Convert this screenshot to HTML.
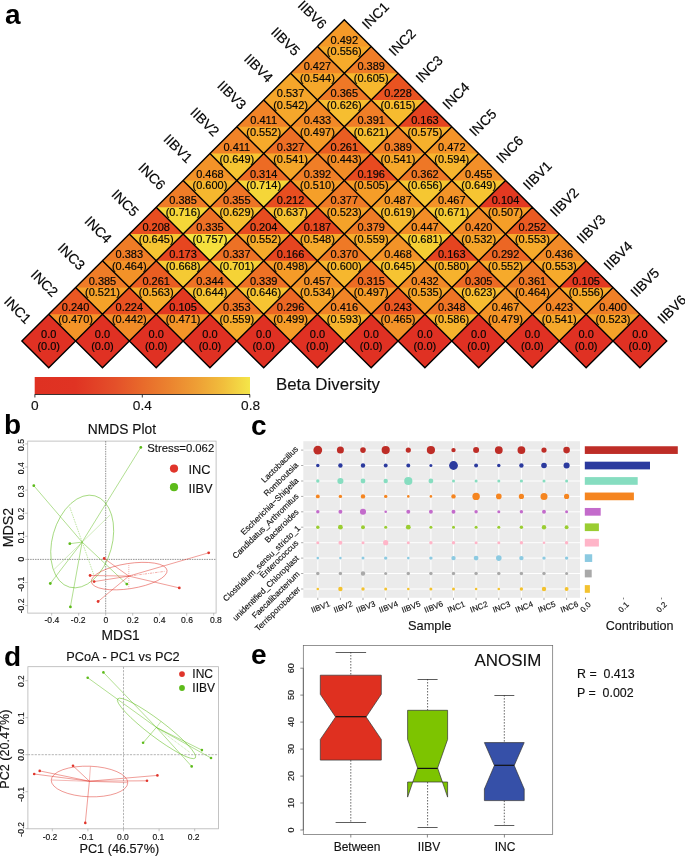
<!DOCTYPE html>
<html lang="en"><head><meta charset="utf-8"><title>Figure</title>
<style>
html,body{margin:0;padding:0;background:#fff;}
body{width:685px;height:856px;overflow:hidden;}
svg{display:block;font-family:"Liberation Sans",Arial,sans-serif;}
text{stroke:#111;stroke-width:.14px;}
.h text{stroke-width:.2px;}
.b text{stroke:none;}
</style></head><body>
<svg width="685" height="856" viewBox="0 0 685 856">
<rect width="685" height="856" fill="#fff"/>
<g id="heat">
<g shape-rendering="geometricPrecision"><path d="M317.43 46.48L344.30 19.70L371.17 46.48L344.30 73.26Z" fill="#F6AB2B"/><path d="M317.43 46.48L344.30 19.70L371.17 46.48Z" fill="#F59A28"/><path d="M290.56 73.26L317.43 46.48L344.30 73.26L317.43 100.04Z" fill="#F5A82B"/><path d="M290.56 73.26L317.43 46.48L344.30 73.26Z" fill="#F18827"/><path d="M344.30 73.26L371.17 46.48L398.04 73.26L371.17 100.04Z" fill="#F6B82E"/><path d="M344.30 73.26L371.17 46.48L398.04 73.26Z" fill="#F07D27"/><path d="M263.69 100.04L290.56 73.26L317.43 100.04L290.56 126.82Z" fill="#F5A72B"/><path d="M263.69 100.04L290.56 73.26L317.43 100.04Z" fill="#F5A62A"/><path d="M317.43 100.04L344.30 73.26L371.17 100.04L344.30 126.82Z" fill="#F6BE30"/><path d="M317.43 100.04L344.30 73.26L371.17 100.04Z" fill="#EF7826"/><path d="M371.17 100.04L398.04 73.26L424.91 100.04L398.04 126.82Z" fill="#F6BB2F"/><path d="M371.17 100.04L398.04 73.26L424.91 100.04Z" fill="#E95321"/><path d="M236.82 126.82L263.69 100.04L290.56 126.82L263.69 153.60Z" fill="#F6AA2B"/><path d="M236.82 126.82L263.69 100.04L290.56 126.82Z" fill="#F18327"/><path d="M290.56 126.82L317.43 100.04L344.30 126.82L317.43 153.60Z" fill="#F59B28"/><path d="M290.56 126.82L317.43 100.04L344.30 126.82Z" fill="#F28927"/><path d="M344.30 126.82L371.17 100.04L398.04 126.82L371.17 153.60Z" fill="#F6BD30"/><path d="M344.30 126.82L371.17 100.04L398.04 126.82Z" fill="#F07E27"/><path d="M398.04 126.82L424.91 100.04L451.78 126.82L424.91 153.60Z" fill="#F6B02C"/><path d="M398.04 126.82L424.91 100.04L451.78 126.82Z" fill="#E64420"/><path d="M209.95 153.60L236.82 126.82L263.69 153.60L236.82 180.38Z" fill="#F6C532"/><path d="M209.95 153.60L236.82 126.82L263.69 153.60Z" fill="#F18327"/><path d="M263.69 153.60L290.56 126.82L317.43 153.60L290.56 180.38Z" fill="#F5A72A"/><path d="M263.69 153.60L290.56 126.82L317.43 153.60Z" fill="#ED6E25"/><path d="M317.43 153.60L344.30 126.82L371.17 153.60L344.30 180.38Z" fill="#F28C27"/><path d="M317.43 153.60L344.30 126.82L371.17 153.60Z" fill="#EA5D22"/><path d="M371.17 153.60L398.04 126.82L424.91 153.60L398.04 180.38Z" fill="#F5A72A"/><path d="M371.17 153.60L398.04 126.82L424.91 153.60Z" fill="#F07D27"/><path d="M424.91 153.60L451.78 126.82L478.65 153.60L451.78 180.38Z" fill="#F6B52E"/><path d="M424.91 153.60L451.78 126.82L478.65 153.60Z" fill="#F49428"/><path d="M183.08 180.38L209.95 153.60L236.82 180.38L209.95 207.16Z" fill="#F6B72E"/><path d="M183.08 180.38L209.95 153.60L236.82 180.38Z" fill="#F39328"/><path d="M236.82 180.38L263.69 153.60L290.56 180.38L263.69 207.16Z" fill="#F5D638"/><path d="M236.82 180.38L263.69 153.60L290.56 180.38Z" fill="#ED6B24"/><path d="M290.56 180.38L317.43 153.60L344.30 180.38L317.43 207.16Z" fill="#F59F29"/><path d="M290.56 180.38L317.43 153.60L344.30 180.38Z" fill="#F07E27"/><path d="M344.30 180.38L371.17 153.60L398.04 180.38L371.17 207.16Z" fill="#F59D28"/><path d="M344.30 180.38L371.17 153.60L398.04 180.38Z" fill="#E84A20"/><path d="M398.04 180.38L424.91 153.60L451.78 180.38L424.91 207.16Z" fill="#F5C732"/><path d="M398.04 180.38L424.91 153.60L451.78 180.38Z" fill="#EE7726"/><path d="M451.78 180.38L478.65 153.60L505.52 180.38L478.65 207.16Z" fill="#F6C532"/><path d="M451.78 180.38L478.65 153.60L505.52 180.38Z" fill="#F38F28"/><path d="M156.21 207.16L183.08 180.38L209.95 207.16L183.08 233.94Z" fill="#F5D738"/><path d="M156.21 207.16L183.08 180.38L209.95 207.16Z" fill="#EF7C27"/><path d="M209.95 207.16L236.82 180.38L263.69 207.16L236.82 233.94Z" fill="#F6BF30"/><path d="M209.95 207.16L236.82 180.38L263.69 207.16Z" fill="#EE7526"/><path d="M263.69 207.16L290.56 180.38L317.43 207.16L290.56 233.94Z" fill="#F6C131"/><path d="M263.69 207.16L290.56 180.38L317.43 207.16Z" fill="#E84E20"/><path d="M317.43 207.16L344.30 180.38L371.17 207.16L344.30 233.94Z" fill="#F5A229"/><path d="M317.43 207.16L344.30 180.38L371.17 207.16Z" fill="#EF7A26"/><path d="M371.17 207.16L398.04 180.38L424.91 207.16L398.04 233.94Z" fill="#F6BC30"/><path d="M371.17 207.16L398.04 180.38L424.91 207.16Z" fill="#F49828"/><path d="M424.91 207.16L451.78 180.38L478.65 207.16L451.78 233.94Z" fill="#F5CB34"/><path d="M424.91 207.16L451.78 180.38L478.65 207.16Z" fill="#F39328"/><path d="M478.65 207.16L505.52 180.38L532.39 207.16L505.52 233.94Z" fill="#F59E28"/><path d="M478.65 207.16L505.52 180.38L532.39 207.16Z" fill="#E33921"/><path d="M129.34 233.94L156.21 207.16L183.08 233.94L156.21 260.72Z" fill="#F6C432"/><path d="M129.34 233.94L156.21 207.16L183.08 233.94Z" fill="#E84D20"/><path d="M183.08 233.94L209.95 207.16L236.82 233.94L209.95 260.72Z" fill="#F5E03D"/><path d="M183.08 233.94L209.95 207.16L236.82 233.94Z" fill="#ED7025"/><path d="M236.82 233.94L263.69 207.16L290.56 233.94L263.69 260.72Z" fill="#F6AA2B"/><path d="M236.82 233.94L263.69 207.16L290.56 233.94Z" fill="#E84C20"/><path d="M290.56 233.94L317.43 207.16L344.30 233.94L317.43 260.72Z" fill="#F5A92B"/><path d="M290.56 233.94L317.43 207.16L344.30 233.94Z" fill="#E74920"/><path d="M344.30 233.94L371.17 207.16L398.04 233.94L371.17 260.72Z" fill="#F6AC2C"/><path d="M344.30 233.94L371.17 207.16L398.04 233.94Z" fill="#EF7B26"/><path d="M398.04 233.94L424.91 207.16L451.78 233.94L424.91 260.72Z" fill="#F5CE34"/><path d="M398.04 233.94L424.91 207.16L451.78 233.94Z" fill="#F28D27"/><path d="M451.78 233.94L478.65 207.16L505.52 233.94L478.65 260.72Z" fill="#F5A52A"/><path d="M451.78 233.94L478.65 207.16L505.52 233.94Z" fill="#F18627"/><path d="M505.52 233.94L532.39 207.16L559.26 233.94L532.39 260.72Z" fill="#F6AA2B"/><path d="M505.52 233.94L532.39 207.16L559.26 233.94Z" fill="#EA5A22"/><path d="M102.47 260.72L129.34 233.94L156.21 260.72L129.34 287.50Z" fill="#F39228"/><path d="M102.47 260.72L129.34 233.94L156.21 260.72Z" fill="#EF7C26"/><path d="M156.21 260.72L183.08 233.94L209.95 260.72L183.08 287.50Z" fill="#F5CA33"/><path d="M156.21 260.72L183.08 233.94L209.95 260.72Z" fill="#E74620"/><path d="M209.95 260.72L236.82 233.94L263.69 260.72L236.82 287.50Z" fill="#F5D336"/><path d="M209.95 260.72L236.82 233.94L263.69 260.72Z" fill="#ED7125"/><path d="M263.69 260.72L290.56 233.94L317.43 260.72L290.56 287.50Z" fill="#F59B28"/><path d="M263.69 260.72L290.56 233.94L317.43 260.72Z" fill="#E64520"/><path d="M317.43 260.72L344.30 233.94L371.17 260.72L344.30 287.50Z" fill="#F6B72E"/><path d="M317.43 260.72L344.30 233.94L371.17 260.72Z" fill="#EF7926"/><path d="M371.17 260.72L398.04 233.94L424.91 260.72L398.04 287.50Z" fill="#F6C432"/><path d="M371.17 260.72L398.04 233.94L424.91 260.72Z" fill="#F39328"/><path d="M424.91 260.72L451.78 233.94L478.65 260.72L451.78 287.50Z" fill="#F6B22D"/><path d="M424.91 260.72L451.78 233.94L478.65 260.72Z" fill="#E64420"/><path d="M478.65 260.72L505.52 233.94L532.39 260.72L505.52 287.50Z" fill="#F6AA2B"/><path d="M478.65 260.72L505.52 233.94L532.39 260.72Z" fill="#EC6624"/><path d="M532.39 260.72L559.26 233.94L586.13 260.72L559.26 287.50Z" fill="#F6AA2B"/><path d="M532.39 260.72L559.26 233.94L586.13 260.72Z" fill="#F28A27"/><path d="M75.60 287.50L102.47 260.72L129.34 287.50L102.47 314.28Z" fill="#F5A229"/><path d="M75.60 287.50L102.47 260.72L129.34 287.50Z" fill="#EF7C27"/><path d="M129.34 287.50L156.21 260.72L183.08 287.50L156.21 314.28Z" fill="#F6AD2C"/><path d="M129.34 287.50L156.21 260.72L183.08 287.50Z" fill="#EA5D22"/><path d="M183.08 287.50L209.95 260.72L236.82 287.50L209.95 314.28Z" fill="#F6C332"/><path d="M183.08 287.50L209.95 260.72L236.82 287.50Z" fill="#EE7325"/><path d="M236.82 287.50L263.69 260.72L290.56 287.50L263.69 314.28Z" fill="#F6C432"/><path d="M236.82 287.50L263.69 260.72L290.56 287.50Z" fill="#EE7125"/><path d="M290.56 287.50L317.43 260.72L344.30 287.50L317.43 314.28Z" fill="#F5A52A"/><path d="M290.56 287.50L317.43 260.72L344.30 287.50Z" fill="#F39028"/><path d="M344.30 287.50L371.17 260.72L398.04 287.50L371.17 314.28Z" fill="#F59B28"/><path d="M344.30 287.50L371.17 260.72L398.04 287.50Z" fill="#ED6C24"/><path d="M398.04 287.50L424.91 260.72L451.78 287.50L424.91 314.28Z" fill="#F5A52A"/><path d="M398.04 287.50L424.91 260.72L451.78 287.50Z" fill="#F28927"/><path d="M451.78 287.50L478.65 260.72L505.52 287.50L478.65 314.28Z" fill="#F6BD30"/><path d="M451.78 287.50L478.65 260.72L505.52 287.50Z" fill="#EC6924"/><path d="M505.52 287.50L532.39 260.72L559.26 287.50L532.39 314.28Z" fill="#F39228"/><path d="M505.52 287.50L532.39 260.72L559.26 287.50Z" fill="#EE7726"/><path d="M559.26 287.50L586.13 260.72L613.00 287.50L586.13 314.28Z" fill="#F6AB2B"/><path d="M559.26 287.50L586.13 260.72L613.00 287.50Z" fill="#E33921"/><path d="M48.73 314.28L75.60 287.50L102.47 314.28L75.60 341.06Z" fill="#F49428"/><path d="M48.73 314.28L75.60 287.50L102.47 314.28Z" fill="#EA5722"/><path d="M102.47 314.28L129.34 287.50L156.21 314.28L129.34 341.06Z" fill="#F28C27"/><path d="M102.47 314.28L129.34 287.50L156.21 314.28Z" fill="#E95221"/><path d="M156.21 314.28L183.08 287.50L209.95 314.28L183.08 341.06Z" fill="#F49428"/><path d="M156.21 314.28L183.08 287.50L209.95 314.28Z" fill="#E33921"/><path d="M209.95 314.28L236.82 287.50L263.69 314.28L236.82 341.06Z" fill="#F6AC2C"/><path d="M209.95 314.28L236.82 287.50L263.69 314.28Z" fill="#EE7526"/><path d="M263.69 314.28L290.56 287.50L317.43 314.28L290.56 341.06Z" fill="#F59C28"/><path d="M263.69 314.28L290.56 287.50L317.43 314.28Z" fill="#EC6724"/><path d="M317.43 314.28L344.30 287.50L371.17 314.28L344.30 341.06Z" fill="#F6B52E"/><path d="M317.43 314.28L344.30 287.50L371.17 314.28Z" fill="#F18427"/><path d="M371.17 314.28L398.04 287.50L424.91 314.28L398.04 341.06Z" fill="#F39228"/><path d="M371.17 314.28L398.04 287.50L424.91 314.28Z" fill="#EA5722"/><path d="M424.91 314.28L451.78 287.50L478.65 314.28L451.78 341.06Z" fill="#F6B32D"/><path d="M424.91 314.28L451.78 287.50L478.65 314.28Z" fill="#EE7425"/><path d="M478.65 314.28L505.52 287.50L532.39 314.28L505.52 341.06Z" fill="#F49628"/><path d="M478.65 314.28L505.52 287.50L532.39 314.28Z" fill="#F39328"/><path d="M532.39 314.28L559.26 287.50L586.13 314.28L559.26 341.06Z" fill="#F5A72A"/><path d="M532.39 314.28L559.26 287.50L586.13 314.28Z" fill="#F18627"/><path d="M586.13 314.28L613.00 287.50L639.87 314.28L613.00 341.06Z" fill="#F5A229"/><path d="M586.13 314.28L613.00 287.50L639.87 314.28Z" fill="#F08027"/><path d="M21.86 341.06L48.73 314.28L75.60 341.06L48.73 367.84Z" fill="#E03123"/><path d="M75.60 341.06L102.47 314.28L129.34 341.06L102.47 367.84Z" fill="#E03123"/><path d="M129.34 341.06L156.21 314.28L183.08 341.06L156.21 367.84Z" fill="#E03123"/><path d="M183.08 341.06L209.95 314.28L236.82 341.06L209.95 367.84Z" fill="#E03123"/><path d="M236.82 341.06L263.69 314.28L290.56 341.06L263.69 367.84Z" fill="#E03123"/><path d="M290.56 341.06L317.43 314.28L344.30 341.06L317.43 367.84Z" fill="#E03123"/><path d="M344.30 341.06L371.17 314.28L398.04 341.06L371.17 367.84Z" fill="#E03123"/><path d="M398.04 341.06L424.91 314.28L451.78 341.06L424.91 367.84Z" fill="#E03123"/><path d="M451.78 341.06L478.65 314.28L505.52 341.06L478.65 367.84Z" fill="#E03123"/><path d="M505.52 341.06L532.39 314.28L559.26 341.06L532.39 367.84Z" fill="#E03123"/><path d="M559.26 341.06L586.13 314.28L613.00 341.06L586.13 367.84Z" fill="#E03123"/><path d="M613.00 341.06L639.87 314.28L666.74 341.06L639.87 367.84Z" fill="#E03123"/></g>
<path d="M317.43 46.48L344.30 19.70L371.17 46.48L344.30 73.26ZM290.56 73.26L317.43 46.48L344.30 73.26L317.43 100.04ZM344.30 73.26L371.17 46.48L398.04 73.26L371.17 100.04ZM263.69 100.04L290.56 73.26L317.43 100.04L290.56 126.82ZM317.43 100.04L344.30 73.26L371.17 100.04L344.30 126.82ZM371.17 100.04L398.04 73.26L424.91 100.04L398.04 126.82ZM236.82 126.82L263.69 100.04L290.56 126.82L263.69 153.60ZM290.56 126.82L317.43 100.04L344.30 126.82L317.43 153.60ZM344.30 126.82L371.17 100.04L398.04 126.82L371.17 153.60ZM398.04 126.82L424.91 100.04L451.78 126.82L424.91 153.60ZM209.95 153.60L236.82 126.82L263.69 153.60L236.82 180.38ZM263.69 153.60L290.56 126.82L317.43 153.60L290.56 180.38ZM317.43 153.60L344.30 126.82L371.17 153.60L344.30 180.38ZM371.17 153.60L398.04 126.82L424.91 153.60L398.04 180.38ZM424.91 153.60L451.78 126.82L478.65 153.60L451.78 180.38ZM183.08 180.38L209.95 153.60L236.82 180.38L209.95 207.16ZM236.82 180.38L263.69 153.60L290.56 180.38L263.69 207.16ZM290.56 180.38L317.43 153.60L344.30 180.38L317.43 207.16ZM344.30 180.38L371.17 153.60L398.04 180.38L371.17 207.16ZM398.04 180.38L424.91 153.60L451.78 180.38L424.91 207.16ZM451.78 180.38L478.65 153.60L505.52 180.38L478.65 207.16ZM156.21 207.16L183.08 180.38L209.95 207.16L183.08 233.94ZM209.95 207.16L236.82 180.38L263.69 207.16L236.82 233.94ZM263.69 207.16L290.56 180.38L317.43 207.16L290.56 233.94ZM317.43 207.16L344.30 180.38L371.17 207.16L344.30 233.94ZM371.17 207.16L398.04 180.38L424.91 207.16L398.04 233.94ZM424.91 207.16L451.78 180.38L478.65 207.16L451.78 233.94ZM478.65 207.16L505.52 180.38L532.39 207.16L505.52 233.94ZM129.34 233.94L156.21 207.16L183.08 233.94L156.21 260.72ZM183.08 233.94L209.95 207.16L236.82 233.94L209.95 260.72ZM236.82 233.94L263.69 207.16L290.56 233.94L263.69 260.72ZM290.56 233.94L317.43 207.16L344.30 233.94L317.43 260.72ZM344.30 233.94L371.17 207.16L398.04 233.94L371.17 260.72ZM398.04 233.94L424.91 207.16L451.78 233.94L424.91 260.72ZM451.78 233.94L478.65 207.16L505.52 233.94L478.65 260.72ZM505.52 233.94L532.39 207.16L559.26 233.94L532.39 260.72ZM102.47 260.72L129.34 233.94L156.21 260.72L129.34 287.50ZM156.21 260.72L183.08 233.94L209.95 260.72L183.08 287.50ZM209.95 260.72L236.82 233.94L263.69 260.72L236.82 287.50ZM263.69 260.72L290.56 233.94L317.43 260.72L290.56 287.50ZM317.43 260.72L344.30 233.94L371.17 260.72L344.30 287.50ZM371.17 260.72L398.04 233.94L424.91 260.72L398.04 287.50ZM424.91 260.72L451.78 233.94L478.65 260.72L451.78 287.50ZM478.65 260.72L505.52 233.94L532.39 260.72L505.52 287.50ZM532.39 260.72L559.26 233.94L586.13 260.72L559.26 287.50ZM75.60 287.50L102.47 260.72L129.34 287.50L102.47 314.28ZM129.34 287.50L156.21 260.72L183.08 287.50L156.21 314.28ZM183.08 287.50L209.95 260.72L236.82 287.50L209.95 314.28ZM236.82 287.50L263.69 260.72L290.56 287.50L263.69 314.28ZM290.56 287.50L317.43 260.72L344.30 287.50L317.43 314.28ZM344.30 287.50L371.17 260.72L398.04 287.50L371.17 314.28ZM398.04 287.50L424.91 260.72L451.78 287.50L424.91 314.28ZM451.78 287.50L478.65 260.72L505.52 287.50L478.65 314.28ZM505.52 287.50L532.39 260.72L559.26 287.50L532.39 314.28ZM559.26 287.50L586.13 260.72L613.00 287.50L586.13 314.28ZM48.73 314.28L75.60 287.50L102.47 314.28L75.60 341.06ZM102.47 314.28L129.34 287.50L156.21 314.28L129.34 341.06ZM156.21 314.28L183.08 287.50L209.95 314.28L183.08 341.06ZM209.95 314.28L236.82 287.50L263.69 314.28L236.82 341.06ZM263.69 314.28L290.56 287.50L317.43 314.28L290.56 341.06ZM317.43 314.28L344.30 287.50L371.17 314.28L344.30 341.06ZM371.17 314.28L398.04 287.50L424.91 314.28L398.04 341.06ZM424.91 314.28L451.78 287.50L478.65 314.28L451.78 341.06ZM478.65 314.28L505.52 287.50L532.39 314.28L505.52 341.06ZM532.39 314.28L559.26 287.50L586.13 314.28L559.26 341.06ZM586.13 314.28L613.00 287.50L639.87 314.28L613.00 341.06ZM21.86 341.06L48.73 314.28L75.60 341.06L48.73 367.84ZM75.60 341.06L102.47 314.28L129.34 341.06L102.47 367.84ZM129.34 341.06L156.21 314.28L183.08 341.06L156.21 367.84ZM183.08 341.06L209.95 314.28L236.82 341.06L209.95 367.84ZM236.82 341.06L263.69 314.28L290.56 341.06L263.69 367.84ZM290.56 341.06L317.43 314.28L344.30 341.06L317.43 367.84ZM344.30 341.06L371.17 314.28L398.04 341.06L371.17 367.84ZM398.04 341.06L424.91 314.28L451.78 341.06L424.91 367.84ZM451.78 341.06L478.65 314.28L505.52 341.06L478.65 367.84ZM505.52 341.06L532.39 314.28L559.26 341.06L532.39 367.84ZM559.26 341.06L586.13 314.28L613.00 341.06L586.13 367.84ZM613.00 341.06L639.87 314.28L666.74 341.06L639.87 367.84Z" fill="none" stroke="#000" stroke-width="1.4" stroke-linejoin="miter"/>
<g class="h" font-size="11" text-anchor="middle" fill="#000"><text x="344.30" y="43.68">0.492</text><text x="344.30" y="55.38">(0.556)</text><text x="317.43" y="70.46">0.427</text><text x="317.43" y="82.16">(0.544)</text><text x="371.17" y="70.46">0.389</text><text x="371.17" y="82.16">(0.605)</text><text x="290.56" y="97.24">0.537</text><text x="290.56" y="108.94">(0.542)</text><text x="344.30" y="97.24">0.365</text><text x="344.30" y="108.94">(0.626)</text><text x="398.04" y="97.24">0.228</text><text x="398.04" y="108.94">(0.615)</text><text x="263.69" y="124.02">0.411</text><text x="263.69" y="135.72">(0.552)</text><text x="317.43" y="124.02">0.433</text><text x="317.43" y="135.72">(0.497)</text><text x="371.17" y="124.02">0.391</text><text x="371.17" y="135.72">(0.621)</text><text x="424.91" y="124.02">0.163</text><text x="424.91" y="135.72">(0.575)</text><text x="236.82" y="150.80">0.411</text><text x="236.82" y="162.50">(0.649)</text><text x="290.56" y="150.80">0.327</text><text x="290.56" y="162.50">(0.541)</text><text x="344.30" y="150.80">0.261</text><text x="344.30" y="162.50">(0.443)</text><text x="398.04" y="150.80">0.389</text><text x="398.04" y="162.50">(0.541)</text><text x="451.78" y="150.80">0.472</text><text x="451.78" y="162.50">(0.594)</text><text x="209.95" y="177.58">0.468</text><text x="209.95" y="189.28">(0.600)</text><text x="263.69" y="177.58">0.314</text><text x="263.69" y="189.28">(0.714)</text><text x="317.43" y="177.58">0.392</text><text x="317.43" y="189.28">(0.510)</text><text x="371.17" y="177.58">0.196</text><text x="371.17" y="189.28">(0.505)</text><text x="424.91" y="177.58">0.362</text><text x="424.91" y="189.28">(0.656)</text><text x="478.65" y="177.58">0.455</text><text x="478.65" y="189.28">(0.649)</text><text x="183.08" y="204.36">0.385</text><text x="183.08" y="216.06">(0.716)</text><text x="236.82" y="204.36">0.355</text><text x="236.82" y="216.06">(0.629)</text><text x="290.56" y="204.36">0.212</text><text x="290.56" y="216.06">(0.637)</text><text x="344.30" y="204.36">0.377</text><text x="344.30" y="216.06">(0.523)</text><text x="398.04" y="204.36">0.487</text><text x="398.04" y="216.06">(0.619)</text><text x="451.78" y="204.36">0.467</text><text x="451.78" y="216.06">(0.671)</text><text x="505.52" y="204.36">0.104</text><text x="505.52" y="216.06">(0.507)</text><text x="156.21" y="231.14">0.208</text><text x="156.21" y="242.84">(0.645)</text><text x="209.95" y="231.14">0.335</text><text x="209.95" y="242.84">(0.757)</text><text x="263.69" y="231.14">0.204</text><text x="263.69" y="242.84">(0.552)</text><text x="317.43" y="231.14">0.187</text><text x="317.43" y="242.84">(0.548)</text><text x="371.17" y="231.14">0.379</text><text x="371.17" y="242.84">(0.559)</text><text x="424.91" y="231.14">0.447</text><text x="424.91" y="242.84">(0.681)</text><text x="478.65" y="231.14">0.420</text><text x="478.65" y="242.84">(0.532)</text><text x="532.39" y="231.14">0.252</text><text x="532.39" y="242.84">(0.553)</text><text x="129.34" y="257.92">0.383</text><text x="129.34" y="269.62">(0.464)</text><text x="183.08" y="257.92">0.173</text><text x="183.08" y="269.62">(0.668)</text><text x="236.82" y="257.92">0.337</text><text x="236.82" y="269.62">(0.701)</text><text x="290.56" y="257.92">0.166</text><text x="290.56" y="269.62">(0.498)</text><text x="344.30" y="257.92">0.370</text><text x="344.30" y="269.62">(0.600)</text><text x="398.04" y="257.92">0.468</text><text x="398.04" y="269.62">(0.645)</text><text x="451.78" y="257.92">0.163</text><text x="451.78" y="269.62">(0.580)</text><text x="505.52" y="257.92">0.292</text><text x="505.52" y="269.62">(0.552)</text><text x="559.26" y="257.92">0.436</text><text x="559.26" y="269.62">(0.553)</text><text x="102.47" y="284.70">0.385</text><text x="102.47" y="296.40">(0.521)</text><text x="156.21" y="284.70">0.261</text><text x="156.21" y="296.40">(0.563)</text><text x="209.95" y="284.70">0.344</text><text x="209.95" y="296.40">(0.644)</text><text x="263.69" y="284.70">0.339</text><text x="263.69" y="296.40">(0.646)</text><text x="317.43" y="284.70">0.457</text><text x="317.43" y="296.40">(0.534)</text><text x="371.17" y="284.70">0.315</text><text x="371.17" y="296.40">(0.497)</text><text x="424.91" y="284.70">0.432</text><text x="424.91" y="296.40">(0.535)</text><text x="478.65" y="284.70">0.305</text><text x="478.65" y="296.40">(0.623)</text><text x="532.39" y="284.70">0.361</text><text x="532.39" y="296.40">(0.464)</text><text x="586.13" y="284.70">0.105</text><text x="586.13" y="296.40">(0.556)</text><text x="75.60" y="311.48">0.240</text><text x="75.60" y="323.18">(0.470)</text><text x="129.34" y="311.48">0.224</text><text x="129.34" y="323.18">(0.442)</text><text x="183.08" y="311.48">0.105</text><text x="183.08" y="323.18">(0.471)</text><text x="236.82" y="311.48">0.353</text><text x="236.82" y="323.18">(0.559)</text><text x="290.56" y="311.48">0.296</text><text x="290.56" y="323.18">(0.499)</text><text x="344.30" y="311.48">0.416</text><text x="344.30" y="323.18">(0.593)</text><text x="398.04" y="311.48">0.243</text><text x="398.04" y="323.18">(0.465)</text><text x="451.78" y="311.48">0.348</text><text x="451.78" y="323.18">(0.586)</text><text x="505.52" y="311.48">0.467</text><text x="505.52" y="323.18">(0.479)</text><text x="559.26" y="311.48">0.423</text><text x="559.26" y="323.18">(0.541)</text><text x="613.00" y="311.48">0.400</text><text x="613.00" y="323.18">(0.523)</text><text x="48.73" y="338.26">0.0</text><text x="48.73" y="349.96">(0.0)</text><text x="102.47" y="338.26">0.0</text><text x="102.47" y="349.96">(0.0)</text><text x="156.21" y="338.26">0.0</text><text x="156.21" y="349.96">(0.0)</text><text x="209.95" y="338.26">0.0</text><text x="209.95" y="349.96">(0.0)</text><text x="263.69" y="338.26">0.0</text><text x="263.69" y="349.96">(0.0)</text><text x="317.43" y="338.26">0.0</text><text x="317.43" y="349.96">(0.0)</text><text x="371.17" y="338.26">0.0</text><text x="371.17" y="349.96">(0.0)</text><text x="424.91" y="338.26">0.0</text><text x="424.91" y="349.96">(0.0)</text><text x="478.65" y="338.26">0.0</text><text x="478.65" y="349.96">(0.0)</text><text x="532.39" y="338.26">0.0</text><text x="532.39" y="349.96">(0.0)</text><text x="586.13" y="338.26">0.0</text><text x="586.13" y="349.96">(0.0)</text><text x="639.87" y="338.26">0.0</text><text x="639.87" y="349.96">(0.0)</text></g>
<g class="h" font-size="13.8" fill="#000"><text transform="translate(28.80 321.17) rotate(45)" text-anchor="end" x="0" y="4.8">INC1</text><text transform="translate(364.24 26.59) rotate(-45)" text-anchor="start" x="0" y="4.8">INC1</text><text transform="translate(55.67 294.39) rotate(45)" text-anchor="end" x="0" y="4.8">INC2</text><text transform="translate(391.11 53.37) rotate(-45)" text-anchor="start" x="0" y="4.8">INC2</text><text transform="translate(82.53 267.61) rotate(45)" text-anchor="end" x="0" y="4.8">INC3</text><text transform="translate(417.98 80.15) rotate(-45)" text-anchor="start" x="0" y="4.8">INC3</text><text transform="translate(109.41 240.83) rotate(45)" text-anchor="end" x="0" y="4.8">INC4</text><text transform="translate(444.85 106.93) rotate(-45)" text-anchor="start" x="0" y="4.8">INC4</text><text transform="translate(136.28 214.05) rotate(45)" text-anchor="end" x="0" y="4.8">INC5</text><text transform="translate(471.72 133.71) rotate(-45)" text-anchor="start" x="0" y="4.8">INC5</text><text transform="translate(163.15 187.27) rotate(45)" text-anchor="end" x="0" y="4.8">INC6</text><text transform="translate(498.58 160.49) rotate(-45)" text-anchor="start" x="0" y="4.8">INC6</text><text transform="translate(190.02 160.49) rotate(45)" text-anchor="end" x="0" y="4.8">IIBV1</text><text transform="translate(525.45 187.27) rotate(-45)" text-anchor="start" x="0" y="4.8">IIBV1</text><text transform="translate(216.88 133.71) rotate(45)" text-anchor="end" x="0" y="4.8">IIBV2</text><text transform="translate(552.32 214.05) rotate(-45)" text-anchor="start" x="0" y="4.8">IIBV2</text><text transform="translate(243.75 106.93) rotate(45)" text-anchor="end" x="0" y="4.8">IIBV3</text><text transform="translate(579.19 240.83) rotate(-45)" text-anchor="start" x="0" y="4.8">IIBV3</text><text transform="translate(270.62 80.15) rotate(45)" text-anchor="end" x="0" y="4.8">IIBV4</text><text transform="translate(606.06 267.61) rotate(-45)" text-anchor="start" x="0" y="4.8">IIBV4</text><text transform="translate(297.50 53.37) rotate(45)" text-anchor="end" x="0" y="4.8">IIBV5</text><text transform="translate(632.93 294.39) rotate(-45)" text-anchor="start" x="0" y="4.8">IIBV5</text><text transform="translate(324.37 26.59) rotate(45)" text-anchor="end" x="0" y="4.8">IIBV6</text><text transform="translate(659.80 321.17) rotate(-45)" text-anchor="start" x="0" y="4.8">IIBV6</text></g>
</g>
<defs><linearGradient id="cb" x1="0" x2="1" y1="0" y2="0"><stop offset="0.000" stop-color="#DF3122"/><stop offset="0.187" stop-color="#E03323"/><stop offset="0.375" stop-color="#E4502A"/><stop offset="0.500" stop-color="#E86A2B"/><stop offset="0.625" stop-color="#EB832F"/><stop offset="0.750" stop-color="#EE9E35"/><stop offset="0.875" stop-color="#F1BE3C"/><stop offset="1.000" stop-color="#F4E649"/></linearGradient></defs>
<rect x="34.7" y="377" width="215.3" height="17.3" fill="url(#cb)"/>
<path d="M34.7 394.5H250M34.9 394.5v3M142.3 394.5v3M249.8 394.5v3" stroke="#222" stroke-width="0.9" fill="none"/>
<g font-size="13.7" text-anchor="middle" fill="#111"><text x="34.7" y="409.6">0</text><text x="142.3" y="409.6">0.4</text><text x="250.6" y="409.6">0.8</text></g>
<text x="276" y="390.3" font-size="16.85" fill="#111">Beta Diversity</text>
<g class="b" font-size="28" font-weight="bold" fill="#000"><text x="5" y="23.5">a</text><text x="4" y="434">b</text><text x="251" y="434.6">c</text><text x="4" y="666">d</text><text x="251" y="664">e</text></g>
<g id="nmds">
<rect x="27.7" y="441.1" width="188.4" height="172.0" fill="none" stroke="#b5b5b5" stroke-width="0.8"/>
<path d="M105.7 441.1V613.1M27.7 559.4H216.1" stroke="#4a4a4a" stroke-width="0.6" stroke-dasharray="1.5 0.95" fill="none"/>
<path d="M51.7 613.1v2.5M78.7 613.1v2.5M105.7 613.1v2.5M132.7 613.1v2.5M159.7 613.1v2.5M186.7 613.1v2.5M213.7 613.1v2.5M27.7 605.6h-2.5M27.7 582.5h-2.5M27.7 559.4h-2.5M27.7 536.3h-2.5M27.7 513.2h-2.5M27.7 490.1h-2.5M27.7 467.0h-2.5M27.7 443.9h-2.5" stroke="#999" stroke-width="0.6" fill="none"/>
<g font-size="8.6" text-anchor="middle" fill="#111">
<text x="51.9" y="623.3">-0.4</text>
<text x="78.2" y="623.3">-0.2</text>
<text x="105.8" y="623.3">0</text>
<text x="132.8" y="623.3">0.2</text>
<text x="159.5" y="623.3">0.4</text>
<text x="187.0" y="623.3">0.6</text>
<text x="215.9" y="623.3">0.8</text>
<text transform="translate(23.6 445.0) rotate(-90)">0.5</text>
<text transform="translate(23.6 468.3) rotate(-90)">0.4</text>
<text transform="translate(23.6 491.4) rotate(-90)">0.3</text>
<text transform="translate(23.6 513.8) rotate(-90)">0.2</text>
<text transform="translate(23.6 537.3) rotate(-90)">0.1</text>
<text transform="translate(23.6 559.2) rotate(-90)">0</text>
<text transform="translate(23.6 584.1) rotate(-90)">-0.1</text>
<text transform="translate(23.6 605.9) rotate(-90)">-0.2</text>
</g>
<text x="121.9" y="434" font-size="13.8" text-anchor="middle" fill="#111">NMDS Plot</text>
<text x="120.6" y="639.7" font-size="13.8" text-anchor="middle" fill="#111">MDS1</text>
<text transform="translate(12.5 527.5) rotate(-90)" font-size="14.2" text-anchor="middle" fill="#111">MDS2</text>
<text x="147.3" y="452.3" font-size="11.3" fill="#111">Stress=0.062</text>
<circle cx="174" cy="468.6" r="4.1" fill="#E0352B"/><circle cx="174" cy="487.2" r="4.1" fill="#5DBB1A"/>
<text x="188.4" y="474" font-size="12.8" fill="#111">INC</text><text x="188.4" y="492.7" font-size="12.8" fill="#111">IIBV</text>
<g stroke="#5DBB1A" stroke-width="0.48" fill="none">
<path d="M82.1 542.1L33.8 485.7M82.1 542.1L140.8 447.4M82.1 542.1L69.8 543.7M82.1 542.1L50.3 583.5M82.1 542.1L70.4 606.9M82.1 542.1L126.8 584.1"/>
<ellipse cx="82.2" cy="541.5" rx="29.9" ry="47.4" transform="rotate(15.6 82.2 541.5)" stroke-width="0.5"/>
<path d="M69.8 507.2L93.8 574.8" stroke-dasharray="1.5 1" stroke-width="0.4"/>
<path d="M110.3 514.8L54.1 569.4" stroke-width="0.35" opacity="0.8"/>
</g>
<g fill="#5DBB1A"><circle cx="33.8" cy="485.7" r="1.4"/><circle cx="140.8" cy="447.4" r="1.4"/><circle cx="69.8" cy="543.7" r="1.4"/><circle cx="50.3" cy="583.5" r="1.4"/><circle cx="70.4" cy="606.9" r="1.4"/><circle cx="126.8" cy="584.1" r="1.4"/></g>
<g stroke="#E0352B" stroke-width="0.48" fill="none">
<path d="M128.8 576.1L104.2 558.5M128.8 576.1L90.1 575.5M128.8 576.1L94.1 581.6M128.8 576.1L98.1 601.5M128.8 576.1L179.3 587.9M128.8 576.1L208.7 552.8"/>
<ellipse cx="129.2" cy="576.1" rx="38.3" ry="12.6" transform="rotate(-8.8 129.2 576.1)" stroke-width="0.5"/>
<path d="M128.8 576.1V564M128.8 576.1V588.4" stroke-dasharray="1 1" stroke-width="0.4"/>
<path d="M128.8 576.1L165.2 571.3" stroke-dasharray="2.5 1 0.8 1" stroke-width="0.4"/>
</g>
<g fill="#E0352B"><circle cx="104.2" cy="558.5" r="1.4"/><circle cx="90.1" cy="575.5" r="1.4"/><circle cx="94.1" cy="581.6" r="1.4"/><circle cx="98.1" cy="601.5" r="1.4"/><circle cx="179.3" cy="587.9" r="1.4"/><circle cx="208.7" cy="552.8" r="1.4"/></g>
</g>
<g id="pcoa">
<rect x="27.9" y="666.7" width="190.7" height="162.1" fill="none" stroke="#b5b5b5" stroke-width="0.8"/>
<path d="M123.5 666.7V828.8M27.9 754.7H218.6" stroke="#b4b4b4" stroke-width="1" stroke-dasharray="2.2 1.2" fill="none"/>
<path d="M52.3 828.8v2.5M27.9 828.7h-2.5M87.9 828.8v2.5M27.9 791.7h-2.5M123.5 828.8v2.5M27.9 754.7h-2.5M159.1 828.8v2.5M27.9 717.7h-2.5M194.7 828.8v2.5M27.9 680.7h-2.5" stroke="#999" stroke-width="0.6" fill="none"/>
<g font-size="8.5" text-anchor="middle" fill="#111">
<text x="50.0" y="839.5">-0.2</text>
<text x="86.2" y="839.5">-0.1</text>
<text x="122.9" y="839.5">0.0</text>
<text x="158.4" y="839.5">0.1</text>
<text x="193.6" y="839.5">0.2</text>
<text transform="translate(24 681.1) rotate(-90)">0.2</text>
<text transform="translate(24 718.3) rotate(-90)">0.1</text>
<text transform="translate(24 754.9) rotate(-90)">0.0</text>
<text transform="translate(24 794.3) rotate(-90)">-0.1</text>
<text transform="translate(24 829.3) rotate(-90)">-0.2</text>
</g>
<text x="123" y="660.8" font-size="12.75" text-anchor="middle" fill="#111">PCoA - PC1 vs PC2</text>
<text x="119.3" y="853.3" font-size="12.7" text-anchor="middle" fill="#111">PC1 (46.57%)</text>
<text transform="translate(9.4 749.2) rotate(-90)" font-size="12.6" text-anchor="middle" fill="#111">PC2 (20.47%)</text>
<circle cx="182" cy="674.1" r="2.9" fill="#E0352B"/><circle cx="182" cy="688" r="2.9" fill="#5DBB1A"/>
<text x="192.3" y="678.2" font-size="12" fill="#111">INC</text><text x="192.3" y="691.8" font-size="12" fill="#111">IIBV</text>
<g stroke="#5DBB1A" stroke-width="0.48" fill="none">
<path d="M156.4 727.4L87.7 677.7M156.4 727.4L103.4 672.4M156.4 727.4L143.1 742.8M156.4 727.4L201.9 750.1M156.4 727.4L211 758M156.4 727.4L191.7 766.4"/>
<ellipse cx="156.5" cy="728.4" rx="48.8" ry="8.3" transform="rotate(37.2 156.5 728.4)" stroke-width="0.5"/>
<path d="M156.4 727.4L161.2 721.2" stroke-width="0.35"/>
<path d="M156.4 727.4L190 752.5" stroke-width="0.35" stroke-dasharray="1 0.8"/>
</g>
<g fill="#5DBB1A"><circle cx="87.7" cy="677.7" r="1.3"/><circle cx="103.4" cy="672.4" r="1.3"/><circle cx="143.1" cy="742.8" r="1.3"/><circle cx="201.9" cy="750.1" r="1.3"/><circle cx="211" cy="758" r="1.3"/><circle cx="191.7" cy="766.4" r="1.3"/></g>
<g stroke="#E0352B" stroke-width="0.48" fill="none">
<path d="M89.4 781.2L73.0 765.8M89.4 781.2L39.7 770.9M89.4 781.2L34.2 774M89.4 781.2L85.3 822.9M89.4 781.2L157.4 775.4M89.4 781.2L147 780.8"/>
<ellipse cx="89.5" cy="781.5" rx="38.3" ry="15.3" transform="rotate(2.1 89.5 781.5)" stroke-width="0.5"/>
<path d="M89.4 781.2L90.4 766.6M51.6 780L127.5 782.7" stroke-width="0.35"/>
</g>
<g fill="#E0352B"><circle cx="73.0" cy="765.8" r="1.3"/><circle cx="39.7" cy="770.9" r="1.3"/><circle cx="34.2" cy="774" r="1.3"/><circle cx="85.3" cy="822.9" r="1.3"/><circle cx="157.4" cy="775.4" r="1.3"/><circle cx="147" cy="780.8" r="1.3"/></g>
</g>
<g id="bubble">
<rect x="303.3" y="441.2" width="276.7" height="156.6" fill="#EBEBEB"/>
<path d="M317.8 441.2V597.8M340.4 441.2V597.8M363.0 441.2V597.8M385.7 441.2V597.8M408.3 441.2V597.8M430.9 441.2V597.8M453.5 441.2V597.8M476.1 441.2V597.8M498.8 441.2V597.8M521.4 441.2V597.8M544.0 441.2V597.8M566.6 441.2V597.8M303.3 450.1H580.0M303.3 465.5H580.0M303.3 481.0H580.0M303.3 496.4H580.0M303.3 511.8H580.0M303.3 527.2H580.0M303.3 542.7H580.0M303.3 558.1H580.0M303.3 573.5H580.0M303.3 589.0H580.0" stroke="#fff" stroke-width="1" fill="none"/>
<path d="M317.8 597.8v2.2M340.4 597.8v2.2M363.0 597.8v2.2M385.7 597.8v2.2M408.3 597.8v2.2M430.9 597.8v2.2M453.5 597.8v2.2M476.1 597.8v2.2M498.8 597.8v2.2M521.4 597.8v2.2M544.0 597.8v2.2M566.6 597.8v2.2M303.3 450.1h-2.2M303.3 465.5h-2.2M303.3 481.0h-2.2M303.3 496.4h-2.2M303.3 511.8h-2.2M303.3 527.2h-2.2M303.3 542.7h-2.2M303.3 558.1h-2.2M303.3 573.5h-2.2M303.3 589.0h-2.2" stroke="#555" stroke-width="0.5" fill="none"/>
<g fill="#BE2D27"><circle cx="317.8" cy="450.1" r="4.40"/><circle cx="340.4" cy="450.1" r="3.50"/><circle cx="363.0" cy="450.1" r="2.80"/><circle cx="385.7" cy="450.1" r="4.10"/><circle cx="408.3" cy="450.1" r="2.60"/><circle cx="430.9" cy="450.1" r="4.10"/><circle cx="453.5" cy="450.1" r="2.20"/><circle cx="476.1" cy="450.1" r="3.00"/><circle cx="498.8" cy="450.1" r="3.90"/><circle cx="521.4" cy="450.1" r="3.90"/><circle cx="544.0" cy="450.1" r="2.60"/><circle cx="566.6" cy="450.1" r="3.30"/></g>
<g fill="#2B3A9E"><circle cx="317.8" cy="465.5" r="1.70"/><circle cx="340.4" cy="465.5" r="2.20"/><circle cx="363.0" cy="465.5" r="2.20"/><circle cx="385.7" cy="465.5" r="1.95"/><circle cx="408.3" cy="465.5" r="1.95"/><circle cx="430.9" cy="465.5" r="1.50"/><circle cx="453.5" cy="465.5" r="4.40"/><circle cx="476.1" cy="465.5" r="1.95"/><circle cx="498.8" cy="465.5" r="1.70"/><circle cx="521.4" cy="465.5" r="2.20"/><circle cx="544.0" cy="465.5" r="2.80"/><circle cx="566.6" cy="465.5" r="3.05"/></g>
<g fill="#86DDC0"><circle cx="317.8" cy="481.0" r="1.70"/><circle cx="340.4" cy="481.0" r="3.05"/><circle cx="363.0" cy="481.0" r="2.40"/><circle cx="385.7" cy="481.0" r="2.20"/><circle cx="408.3" cy="481.0" r="4.10"/><circle cx="430.9" cy="481.0" r="2.40"/><circle cx="453.5" cy="481.0" r="1.50"/><circle cx="476.1" cy="481.0" r="1.50"/><circle cx="498.8" cy="481.0" r="1.50"/><circle cx="521.4" cy="481.0" r="1.60"/><circle cx="544.0" cy="481.0" r="1.50"/><circle cx="566.6" cy="481.0" r="1.50"/></g>
<g fill="#F58520"><circle cx="317.8" cy="496.4" r="1.95"/><circle cx="340.4" cy="496.4" r="1.70"/><circle cx="363.0" cy="496.4" r="2.20"/><circle cx="385.7" cy="496.4" r="1.70"/><circle cx="408.3" cy="496.4" r="1.30"/><circle cx="430.9" cy="496.4" r="1.30"/><circle cx="453.5" cy="496.4" r="2.20"/><circle cx="476.1" cy="496.4" r="3.70"/><circle cx="498.8" cy="496.4" r="2.80"/><circle cx="521.4" cy="496.4" r="2.60"/><circle cx="544.0" cy="496.4" r="3.50"/><circle cx="566.6" cy="496.4" r="2.60"/></g>
<g fill="#C36BCB"><circle cx="317.8" cy="511.8" r="1.70"/><circle cx="340.4" cy="511.8" r="1.95"/><circle cx="363.0" cy="511.8" r="3.05"/><circle cx="385.7" cy="511.8" r="1.30"/><circle cx="408.3" cy="511.8" r="1.95"/><circle cx="430.9" cy="511.8" r="1.95"/><circle cx="453.5" cy="511.8" r="1.95"/><circle cx="476.1" cy="511.8" r="1.70"/><circle cx="498.8" cy="511.8" r="1.50"/><circle cx="521.4" cy="511.8" r="1.70"/><circle cx="544.0" cy="511.8" r="1.95"/><circle cx="566.6" cy="511.8" r="1.50"/></g>
<g fill="#9ACD32"><circle cx="317.8" cy="527.2" r="1.70"/><circle cx="340.4" cy="527.2" r="2.40"/><circle cx="363.0" cy="527.2" r="1.95"/><circle cx="385.7" cy="527.2" r="1.50"/><circle cx="408.3" cy="527.2" r="2.40"/><circle cx="430.9" cy="527.2" r="1.50"/><circle cx="453.5" cy="527.2" r="1.50"/><circle cx="476.1" cy="527.2" r="1.50"/><circle cx="498.8" cy="527.2" r="1.50"/><circle cx="521.4" cy="527.2" r="1.70"/><circle cx="544.0" cy="527.2" r="2.20"/><circle cx="566.6" cy="527.2" r="1.95"/></g>
<g fill="#FFB5C8"><circle cx="317.8" cy="542.7" r="1.50"/><circle cx="340.4" cy="542.7" r="1.95"/><circle cx="363.0" cy="542.7" r="1.50"/><circle cx="385.7" cy="542.7" r="2.60"/><circle cx="408.3" cy="542.7" r="1.50"/><circle cx="430.9" cy="542.7" r="1.70"/><circle cx="453.5" cy="542.7" r="1.70"/><circle cx="476.1" cy="542.7" r="1.50"/><circle cx="498.8" cy="542.7" r="1.50"/><circle cx="521.4" cy="542.7" r="1.70"/><circle cx="544.0" cy="542.7" r="1.30"/><circle cx="566.6" cy="542.7" r="1.70"/></g>
<g fill="#8CCAE1"><circle cx="317.8" cy="558.1" r="1.30"/><circle cx="340.4" cy="558.1" r="1.30"/><circle cx="363.0" cy="558.1" r="1.50"/><circle cx="385.7" cy="558.1" r="1.70"/><circle cx="408.3" cy="558.1" r="1.30"/><circle cx="430.9" cy="558.1" r="1.70"/><circle cx="453.5" cy="558.1" r="2.20"/><circle cx="476.1" cy="558.1" r="2.40"/><circle cx="498.8" cy="558.1" r="2.80"/><circle cx="521.4" cy="558.1" r="2.20"/><circle cx="544.0" cy="558.1" r="1.70"/><circle cx="566.6" cy="558.1" r="1.70"/></g>
<g fill="#A9A9A9"><circle cx="317.8" cy="573.5" r="1.70"/><circle cx="340.4" cy="573.5" r="1.70"/><circle cx="363.0" cy="573.5" r="2.20"/><circle cx="385.7" cy="573.5" r="1.50"/><circle cx="408.3" cy="573.5" r="1.70"/><circle cx="430.9" cy="573.5" r="1.70"/><circle cx="453.5" cy="573.5" r="1.70"/><circle cx="476.1" cy="573.5" r="1.70"/><circle cx="498.8" cy="573.5" r="1.70"/><circle cx="521.4" cy="573.5" r="1.70"/><circle cx="544.0" cy="573.5" r="1.70"/><circle cx="566.6" cy="573.5" r="1.50"/></g>
<g fill="#F3C22F"><circle cx="317.8" cy="589.0" r="1.30"/><circle cx="340.4" cy="589.0" r="2.20"/><circle cx="363.0" cy="589.0" r="1.70"/><circle cx="385.7" cy="589.0" r="1.50"/><circle cx="408.3" cy="589.0" r="1.30"/><circle cx="430.9" cy="589.0" r="1.50"/><circle cx="453.5" cy="589.0" r="1.50"/><circle cx="476.1" cy="589.0" r="1.30"/><circle cx="498.8" cy="589.0" r="1.30"/><circle cx="521.4" cy="589.0" r="1.70"/><circle cx="544.0" cy="589.0" r="2.20"/><circle cx="566.6" cy="589.0" r="1.95"/></g>
<g font-size="8.3" text-anchor="end" fill="#111">
<text transform="translate(298.70 449.70) rotate(-44.5)">Lactobacillus</text>
<text transform="translate(298.70 465.83) rotate(-44.5)">Romboutsia</text>
<text transform="translate(299.10 481.26) rotate(-44.5)">Escherichia−Shigella</text>
<text transform="translate(299.20 496.79) rotate(-44.5)">Candidatus_Arthromitus</text>
<text transform="translate(299.20 512.62) rotate(-44.5)">Bacteroides</text>
<text transform="translate(300.70 528.95) rotate(-44.5)">Clostridium_sensu_stricto_1</text>
<text transform="translate(298.90 543.48) rotate(-44.5)">Enterococcus</text>
<text transform="translate(299.40 558.91) rotate(-44.5)">unidentified_Chloroplast</text>
<text transform="translate(300.25 574.74) rotate(-44.5)">Faecalibacterium</text>
<text transform="translate(301.10 589.77) rotate(-44.5)">Terrisporobacter</text>
</g>
<g font-size="8" text-anchor="middle" fill="#111">
<text transform="translate(320.5 606.9) rotate(-21)" y="2.8">IIBV1</text>
<text transform="translate(343.1 606.9) rotate(-21)" y="2.8">IIBV2</text>
<text transform="translate(365.7 606.9) rotate(-21)" y="2.8">IIBV3</text>
<text transform="translate(388.4 606.9) rotate(-21)" y="2.8">IIBV4</text>
<text transform="translate(411.0 606.9) rotate(-21)" y="2.8">IIBV5</text>
<text transform="translate(433.6 606.9) rotate(-21)" y="2.8">IIBV6</text>
<text transform="translate(456.2 606.9) rotate(-21)" y="2.8">INC1</text>
<text transform="translate(478.8 606.9) rotate(-21)" y="2.8">INC2</text>
<text transform="translate(501.5 606.9) rotate(-21)" y="2.8">INC3</text>
<text transform="translate(524.1 606.9) rotate(-21)" y="2.8">INC4</text>
<text transform="translate(546.7 606.9) rotate(-21)" y="2.8">INC5</text>
<text transform="translate(569.3 606.9) rotate(-21)" y="2.8">INC6</text>
</g>
<text x="408" y="629.9" font-size="12.8" fill="#111">Sample</text>
<rect x="584.8" y="446.25" width="93.0" height="7.7" fill="#BE2D27"/>
<rect x="584.8" y="461.68" width="65.2" height="7.7" fill="#2B3A9E"/>
<rect x="584.8" y="477.11" width="52.9" height="7.7" fill="#86DDC0"/>
<rect x="584.8" y="492.54" width="49.1" height="7.7" fill="#F58520"/>
<rect x="584.8" y="507.97" width="15.9" height="7.7" fill="#C36BCB"/>
<rect x="584.8" y="523.40" width="14.1" height="7.7" fill="#9ACD32"/>
<rect x="584.8" y="538.83" width="14.1" height="7.7" fill="#FFB5C8"/>
<rect x="584.8" y="554.26" width="7.4" height="7.7" fill="#8CCAE1"/>
<rect x="584.8" y="569.69" width="6.9" height="7.7" fill="#A9A9A9"/>
<rect x="584.8" y="585.12" width="5.1" height="7.7" fill="#F3C22F"/>
<path d="M585.5 597.6v1.8" stroke="#333" stroke-width="0.6"/>
<text transform="translate(585.5 607.1) rotate(-45)" y="2.9" font-size="8" text-anchor="middle" fill="#222">0.0</text>
<path d="M623.5 597.6v1.8" stroke="#333" stroke-width="0.6"/>
<text transform="translate(623.5 607.1) rotate(-45)" y="2.9" font-size="8" text-anchor="middle" fill="#222">0.1</text>
<path d="M661.5 597.6v1.8" stroke="#333" stroke-width="0.6"/>
<text transform="translate(661.5 607.1) rotate(-45)" y="2.9" font-size="8" text-anchor="middle" fill="#222">0.2</text>
<text x="639.6" y="630" font-size="12.55" text-anchor="middle" fill="#111">Contribution</text>
</g>
<g id="box">
<rect x="303.3" y="645.4" width="249.4" height="189.1" fill="none" stroke="#666" stroke-width="0.7"/>
<path d="M303.3 830.0h-3M303.3 803.0h-3M303.3 776.1h-3M303.3 749.1h-3M303.3 722.1h-3M303.3 695.1h-3M303.3 668.2h-3M303.3 830.0V668.2M350.8 834.5v3M427.4 834.5v3M504.4 834.5v3" stroke="#555" stroke-width="0.7" fill="none"/>
<g font-size="9" text-anchor="middle" fill="#111">
<text transform="translate(294.4 830.0) rotate(-90)">0</text>
<text transform="translate(294.4 803.0) rotate(-90)">10</text>
<text transform="translate(294.4 776.1) rotate(-90)">20</text>
<text transform="translate(294.4 749.1) rotate(-90)">30</text>
<text transform="translate(294.4 722.1) rotate(-90)">40</text>
<text transform="translate(294.4 695.1) rotate(-90)">50</text>
<text transform="translate(294.4 668.2) rotate(-90)">60</text>
</g>
<path d="M350.8 652.0V675.2M350.8 760.1V822.2" stroke="#222" stroke-width="0.7" stroke-dasharray="1.5 1.5" fill="none"/><path d="M335.6 652.5h30.5M335.6 822.5h30.5" stroke="#333" stroke-width="0.8" fill="none"/><path d="M320.3 760.1L320.3 739.4L335.6 717.0L320.3 694.3L320.3 675.2L381.3 675.2L381.3 694.3L366.1 717.0L381.3 739.4L381.3 760.1Z" fill="#DF3020" stroke="#333" stroke-width="0.7" stroke-linejoin="miter"/><path d="M335.6 716.7h30.5" stroke="#111" stroke-width="1.2"/>
<path d="M427.6 679.0V710.3M427.6 782.0V827.7" stroke="#222" stroke-width="0.7" stroke-dasharray="1.5 1.5" fill="none"/><path d="M417.6 679.5h20.0M417.6 827.5h20.0" stroke="#333" stroke-width="0.8" fill="none"/><path d="M407.6 782.0L407.6 797.1L417.6 768.0L407.6 739.4L407.6 710.3L447.6 710.3L447.6 739.4L437.6 768.0L447.6 797.1L447.6 782.0Z" fill="#7DC400" stroke="#333" stroke-width="0.7" stroke-linejoin="miter"/><path d="M417.6 768.4h20.0" stroke="#111" stroke-width="1.2"/>
<path d="M504.3 695.1V742.6M504.3 800.6V824.9" stroke="#222" stroke-width="0.7" stroke-dasharray="1.5 1.5" fill="none"/><path d="M494.4 695.5h19.9M494.4 825.5h19.9" stroke="#333" stroke-width="0.8" fill="none"/><path d="M484.4 800.6L484.4 789.0L494.4 765.5L484.4 742.6L484.4 742.6L524.2 742.6L524.2 742.6L514.2 765.5L524.2 789.0L524.2 800.6Z" fill="#3650A8" stroke="#333" stroke-width="0.7" stroke-linejoin="miter"/><path d="M494.4 765.3h19.9" stroke="#111" stroke-width="1.2"/>
<g font-size="12" text-anchor="middle" fill="#111"><text x="357" y="851">Between</text><text x="429" y="851">IIBV</text><text x="505" y="851">INC</text></g>
<text x="474.6" y="665.7" font-size="16.9" fill="#111">ANOSIM</text>
<text x="577" y="678.3" font-size="12.4" fill="#111" xml:space="preserve">R =  0.413</text>
<text x="577" y="696.9" font-size="12.4" fill="#111" xml:space="preserve">P =  0.002</text>
</g>
</svg>
</body></html>
